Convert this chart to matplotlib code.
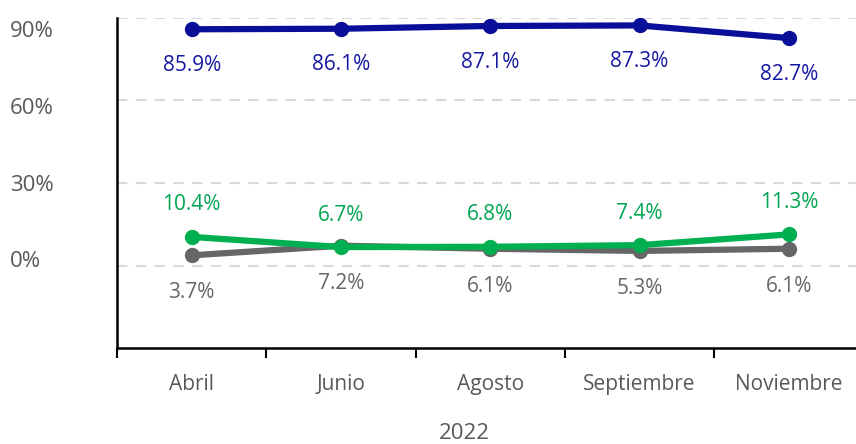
import numpy as np
import matplotlib
matplotlib.use("Agg")
import matplotlib.pyplot as plt
import matplotlib.transforms as mtransforms

plt.rcParams['font.family'] = ['Open Sans', 'DejaVu Sans']

# data
meses = ["Abril", "Junio", "Agosto", "Septiembre", "Noviembre"]
serie_azul = [85.9, 86.1, 87.1, 87.3, 82.7]
serie_verde = [10.4, 6.7, 6.8, 7.4, 11.3]
serie_gris = [3.7, 7.2, 6.1, 5.3, 6.1]
y_ticks = [0, 30, 60, 90]
anio = "2022"

azul = "#0A0F99"
verde = "#00B050"
gris = "#666666"
texto = "#595959"

fig = plt.figure(figsize=(8.56, 4.44), dpi=100)
# axes extends a bit past the right edge of the figure, like the original
ax = fig.add_axes([117 / 856, (444 - 348) / 444, (863.5 - 117) / 856, (348 - 18) / 444])

x = np.arange(len(meses))

ax.plot(x, serie_gris, color=gris, lw=4.5, marker="o", ms=10, zorder=3,
        solid_capstyle="round")
ax.plot(x, serie_verde, color=verde, lw=4.5, marker="o", ms=10, zorder=4,
        solid_capstyle="round")
ax.plot(x, serie_azul, color=azul, lw=4.5, marker="o", ms=10, zorder=5,
        solid_capstyle="round")

fs = 15

# labels
for i in range(len(meses)):
    ax.annotate("%.1f%%" % serie_azul[i], (x[i], serie_azul[i]),
                xytext=(0, -26), textcoords="offset points", ha="center",
                va="center", color="#1518A0", fontsize=fs)
    ax.annotate("%.1f%%" % serie_verde[i], (x[i], serie_verde[i]),
                xytext=(0, 23), textcoords="offset points", ha="center",
                va="center", color="#00A651", fontsize=fs)
    ax.annotate("%.1f%%" % serie_gris[i], (x[i], serie_gris[i]),
                xytext=(0, -27), textcoords="offset points", ha="center",
                va="center", color=gris, fontsize=fs)

ax.set_xlim(-0.5, len(meses) - 0.5)
ax.set_ylim(-30, 90)

ax.set_yticks(y_ticks)
ax.set_yticklabels(["%d%%" % v for v in y_ticks])
ax.tick_params(axis="y", length=0, pad=77, labelsize=fs + 1, labelcolor=texto)
# the y labels in the original sit a little off their gridlines
shifts = [-5, 0, 4, 8]
for lab, dy in zip(ax.get_yticklabels(), shifts):
    lab.set_horizontalalignment("left")
    lab.set_transform(lab.get_transform() +
                      mtransforms.ScaledTranslation(0, -dy / 72., fig.dpi_scale_trans))

ax.set_xticks(x)
ax.set_xticklabels(meses)
ax.set_xticks(np.arange(len(meses) + 1) - 0.5, minor=True)
ax.tick_params(axis="x", which="major", length=0, pad=19, labelsize=fs,
               labelcolor=texto)
ax.tick_params(axis="x", which="minor", length=7, width=1.5, color="black",
               direction="out")

for v in y_ticks:
    ax.axhline(v, color="#D9D9D9", lw=1.5, ls=(0, (5, 4)), zorder=1)

for s in ["top", "right"]:
    ax.spines[s].set_visible(False)
ax.spines["left"].set_linewidth(1.8)
ax.spines["bottom"].set_linewidth(1.8)

fig.text(464 / 856, 1 - 433 / 444, anio, ha="center", va="center",
         fontsize=fs + 1, color=texto)

fig.savefig("out.png", dpi=100)
